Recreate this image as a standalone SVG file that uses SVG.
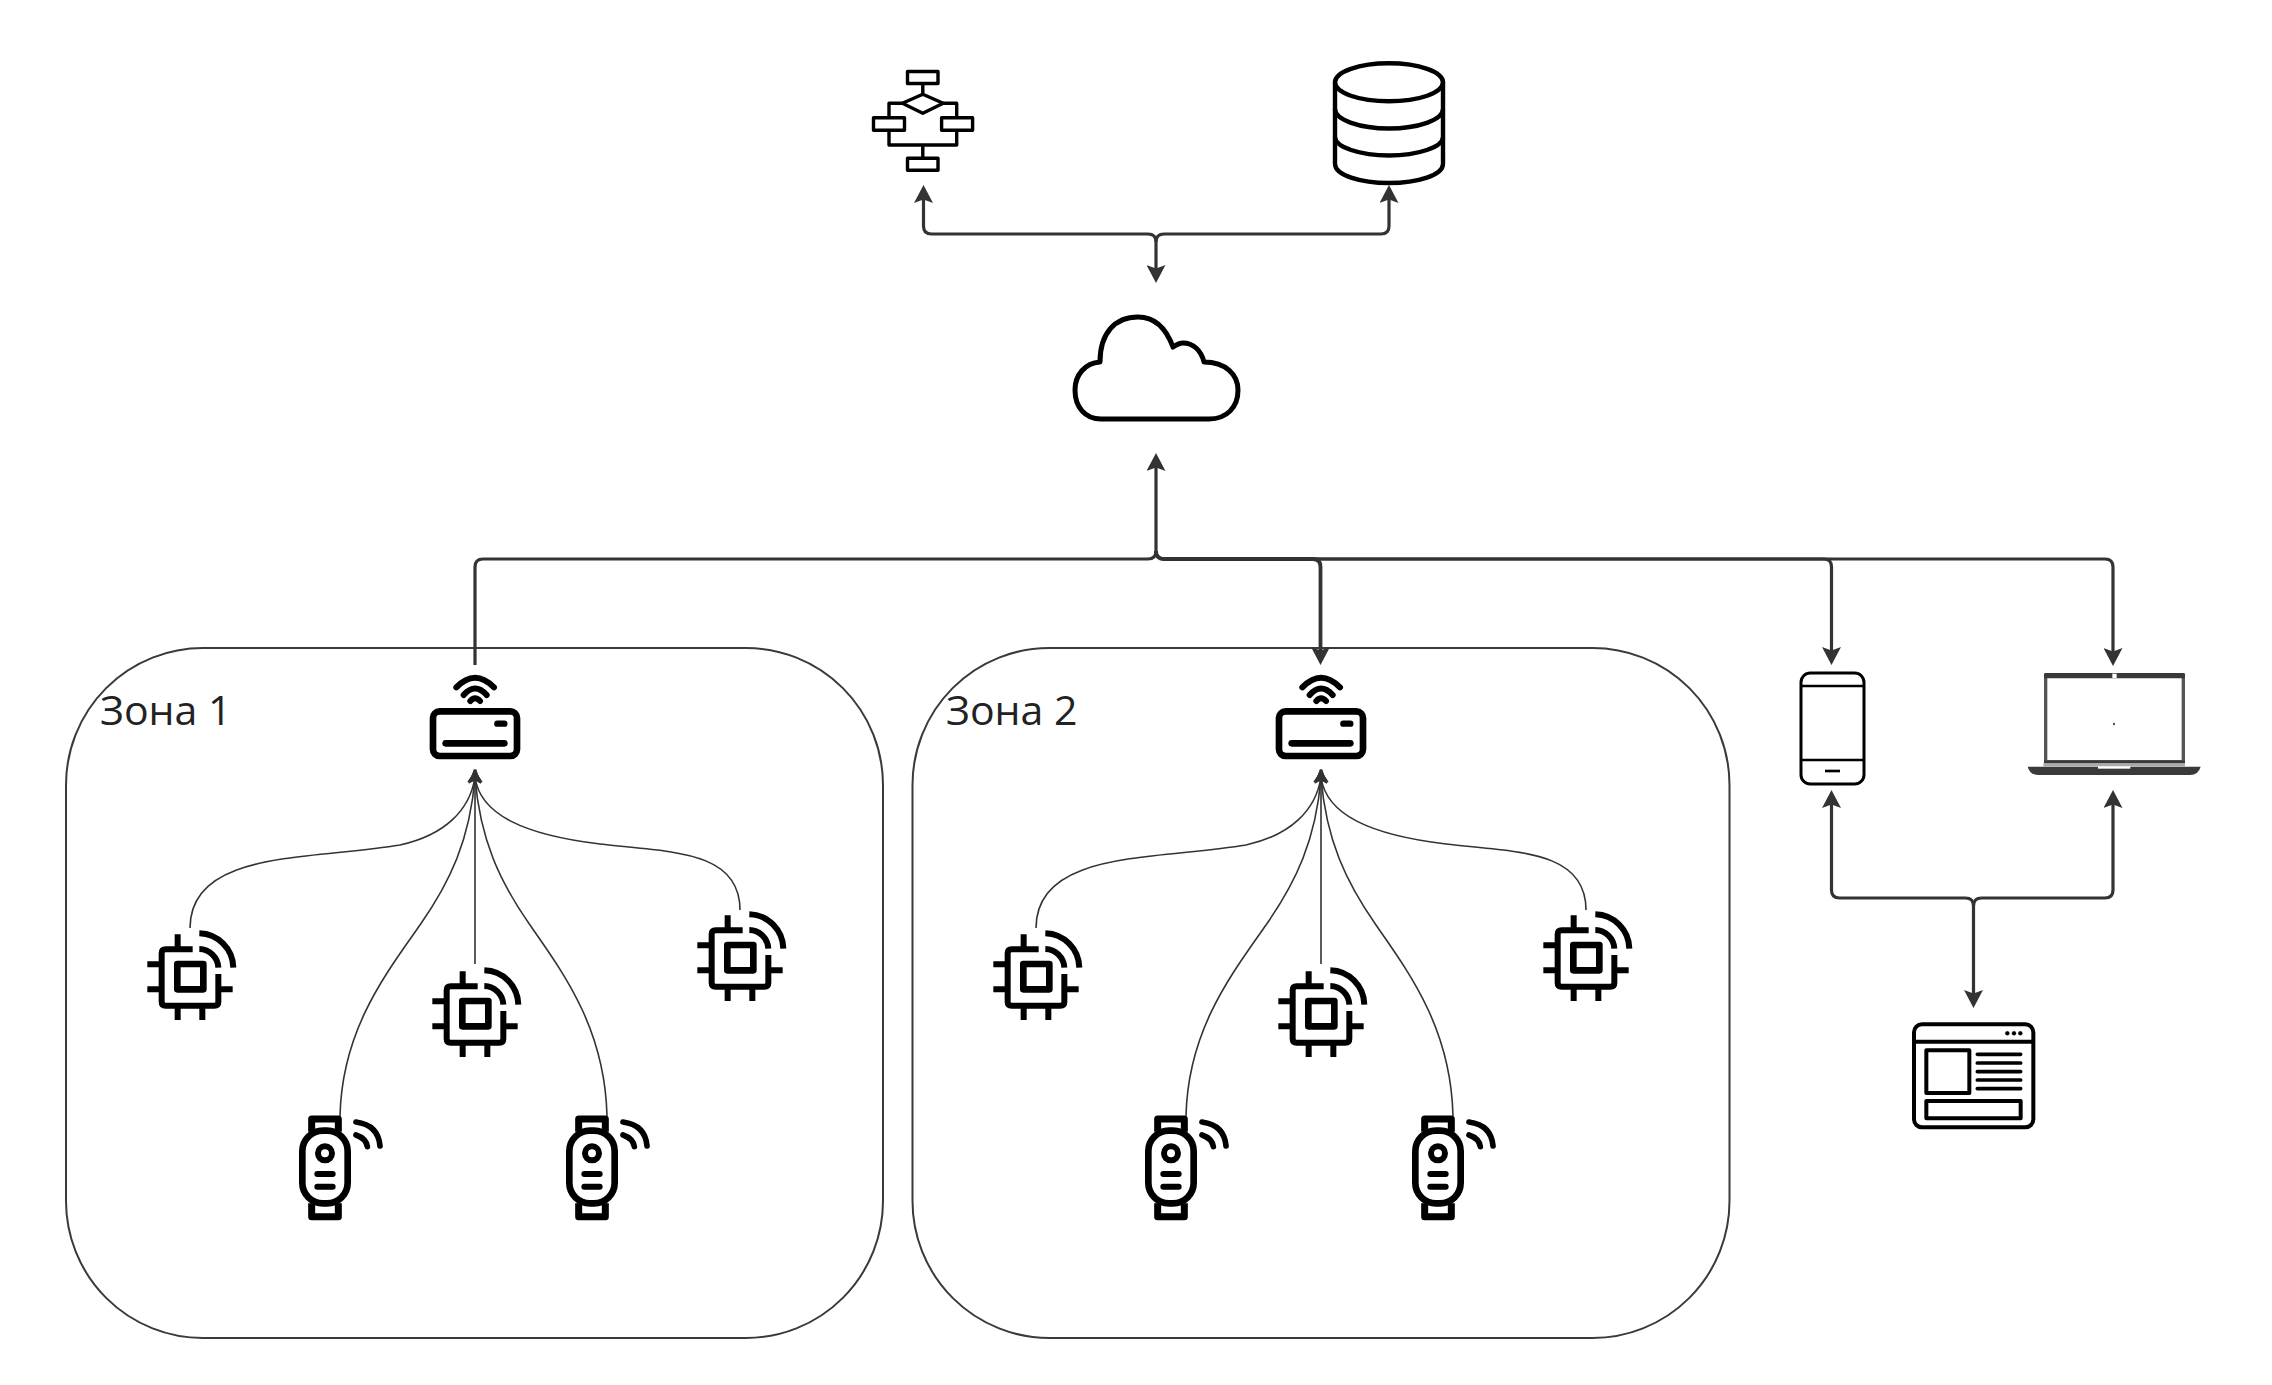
<svg xmlns="http://www.w3.org/2000/svg" width="2272" height="1385" viewBox="0 0 2272 1385">
<style>
.zone{fill:none;stroke:#3a3a3a;stroke-width:2}
.label{font-family:"Open Sans","Noto Sans",sans-serif;font-size:41px;fill:#222}
.ico{fill:none;stroke:#000;stroke-linecap:butt;stroke-linejoin:round}
.rnd{stroke-linecap:round}
.conn{fill:none;stroke:#333;stroke-width:3.2;stroke-linejoin:round}
.fan{fill:none;stroke:#333;stroke-width:1.6}
</style>
<defs>
<marker id="ah" markerUnits="userSpaceOnUse" viewBox="0 0 18 19" markerWidth="18" markerHeight="19" refX="7" refY="9.5" orient="auto"><path d="M18,9.5L0,0L3.5,9.5L0,19Z" fill="#333"/></marker>
<marker id="ahs" markerUnits="userSpaceOnUse" viewBox="0 0 14 14" markerWidth="14" markerHeight="14" refX="6" refY="7" orient="auto"><path d="M14,7L0,0L3,7L0,14Z" fill="#333"/></marker>
<g id="ac" transform="scale(.33333)" class="ico">
<rect x="159" y="214" width="252" height="134" rx="20" stroke-width="20"/>
<path class="rnd" d="M352,251H373" stroke-width="19"/>
<path class="rnd" d="M197,310H373" stroke-width="20"/>
<path class="rnd" d="M229,142Q285,84 342,142" stroke-width="18"/>
<path class="rnd" d="M251,165Q285,126 320,165" stroke-width="18"/>
<path class="rnd" d="M271,183Q285,167 300,183" stroke-width="18"/>
</g>
<g id="chip" transform="scale(.33333)" class="ico">
<path d="M218,178H137Q125,178 125,190V335Q125,347 137,347H283Q295,347 295,335V252" stroke-width="18"/>
<rect x="172" y="222" width="78" height="76" stroke-width="20"/>
<path d="M173,133V178M82,223H125M82,298H125M173,347V390M247,347V390M295,298H338" stroke-width="18"/>
<path d="M238,130A105,105 0 0 1 340,233" stroke-width="18"/>
<path d="M238,177A58,58 0 0 1 295,233" stroke-width="18"/>
</g>
<g id="watch" transform="scale(.33333)" class="ico">
<path d="M575,725V687H655V725" stroke-width="21"/>
<path d="M575,940V980H655V940" stroke-width="21"/>
<rect x="547" y="722" width="136" height="218" rx="62" stroke-width="20"/>
<circle cx="615" cy="790" r="21" stroke-width="18"/>
<path class="rnd" d="M592,852H638M592,890H638" stroke-width="18"/>
<path class="rnd" d="M708,696Q775,705 780,768" stroke-width="17"/>
<path class="rnd" d="M708,735Q738,745 742,770" stroke-width="17"/>
</g>
</defs>
<rect width="2272" height="1385" fill="#fff"/>
<g id="zone-1"><rect class="zone" x="66" y="648" width="817" height="690" rx="137" ry="137"/><text class="label" x="100" y="725">Зона 1</text></g>
<g id="zone-2"><rect class="zone" x="912.5" y="648" width="817" height="690" rx="137" ry="137"/><text class="label" x="946" y="725">Зона 2</text></g>
<g id="connectors">
<g id="top-links" class="conn">
<path d="M1156,242Q1156,234 1148,234H931.5Q923.5,234 923.5,226V196" marker-end="url(#ah)"/>
<path d="M1156,242Q1156,234 1164,234H1381Q1389,234 1389,226V196" marker-end="url(#ah)"/>
<path d="M1156,242V272" marker-end="url(#ah)"/>
</g>
<g id="bus" class="conn">
<path d="M475,665V567Q475,559 483,559H1148Q1156,559 1156,551V464" marker-end="url(#ah)"/>
<path d="M1156,551Q1156,559 1164,559H1313Q1320.5,559 1320.5,567V654" marker-end="url(#ah)" stroke-width="3.8"/>
<path d="M1156,551Q1156,559 1164,559H1824Q1831.5,559 1831.5,567V654" marker-end="url(#ah)"/>
<path d="M1156,551Q1156,559 1164,559H2105Q2113,559 2113,567V655" marker-end="url(#ah)"/>
</g>
<g id="app-links" class="conn">
<path d="M1973.5,906Q1973.5,898 1965.5,898H1839.5Q1831.5,898 1831.5,890V801" marker-end="url(#ah)"/>
<path d="M1973.5,906Q1973.5,898 1981.5,898H2105Q2113,898 2113,890V801" marker-end="url(#ah)"/>
<path d="M1973.5,906V997" marker-end="url(#ah)"/>
</g>
<g id="fan-1" class="fan">
<path d="M190,928C190,850 310,860 400,845C445,835 470,810 475,777" marker-end="url(#ahs)"/>
<path d="M740,910C740,850 670,852 600,844C525,835 480,815 475,777" marker-end="url(#ahs)"/>
<path d="M340,1116C342,1030 385,975 420,925C450,882 470,840 475,777" marker-end="url(#ahs)"/>
<path d="M607,1116C605,1030 565,975 530,925C500,882 480,840 475,777" marker-end="url(#ahs)"/>
<path d="M475,964V777" marker-end="url(#ahs)"/>
</g>
<g id="fan-2" class="fan" transform="translate(846,0)">
<path d="M190,928C190,850 310,860 400,845C445,835 470,810 475,777" marker-end="url(#ahs)"/>
<path d="M740,910C740,850 670,852 600,844C525,835 480,815 475,777" marker-end="url(#ahs)"/>
<path d="M340,1116C342,1030 385,975 420,925C450,882 470,840 475,777" marker-end="url(#ahs)"/>
<path d="M607,1116C605,1030 565,975 530,925C500,882 480,840 475,777" marker-end="url(#ahs)"/>
<path d="M475,964V777" marker-end="url(#ahs)"/>
</g>
</g>
<g id="flowchart" class="ico" stroke-width="3.4">
<rect x="907.5" y="71.5" width="30.5" height="12"/>
<path d="M922.8,83.5V94.3M922.8,94.3L943.2,103.3L922.8,113.3L902.4,103.3Z"/>
<path d="M902.4,103.3H889V117.7M943.2,103.3H956.7V117.7"/>
<rect x="873.5" y="117.7" width="31" height="12.5"/>
<rect x="941.6" y="117.7" width="31" height="12.5"/>
<path d="M889,130.2V145H956.7V130.2M922.8,145V158.3"/>
<rect x="907.5" y="158.3" width="30.5" height="12"/>
</g>
<g id="database" class="ico" stroke-width="4.4">
<ellipse cx="1389" cy="82.3" rx="54" ry="19"/>
<path d="M1335,82.3V164C1335,175 1360,183 1389,183C1418,183 1443,175 1443,164V82.3"/>
<path d="M1335,109C1335,120 1360,128.5 1389,128.5C1418,128.5 1443,120 1443,109"/>
<path d="M1335,137C1335,147 1360,155.5 1389,155.5C1418,155.5 1443,147 1443,137"/>
</g>
<g id="cloud" class="ico" stroke-width="5">
<path d="M1101,419H1209C1227,419 1238,407 1238,390C1238,375 1226,362 1204,362C1201,350 1193,343 1183,343C1179,343 1176,345 1173,347C1166,328 1154,317 1138,317C1115,317 1100,333 1100,362C1085,363 1075,375 1075,390C1075,407 1085,419 1101,419Z"/>
</g>
<g id="gateway-1"><use href="#ac" x="380" y="640"/></g>
<g id="gateway-2"><use href="#ac" x="1226" y="640"/></g>
<g id="sensor-1-1"><use href="#chip" x="120" y="890"/></g>
<g id="sensor-1-2"><use href="#chip" x="405" y="927"/></g>
<g id="sensor-1-3"><use href="#chip" x="670" y="871"/></g>
<g id="wearable-1-1"><use href="#watch" x="120" y="890"/></g>
<g id="wearable-1-2"><use href="#watch" x="387" y="890"/></g>
<g id="sensor-2-1"><use href="#chip" x="966" y="890"/></g>
<g id="sensor-2-2"><use href="#chip" x="1251" y="927"/></g>
<g id="sensor-2-3"><use href="#chip" x="1516" y="871"/></g>
<g id="wearable-2-1"><use href="#watch" x="966" y="890"/></g>
<g id="wearable-2-2"><use href="#watch" x="1233" y="890"/></g>
<g id="phone" transform="translate(1770,640) scale(.33333)" class="ico">
<rect x="93" y="99" width="189" height="333" rx="28" stroke-width="9"/>
<path d="M93,138H282M93,360H282" stroke-width="8"/>
<path d="M165,393H210" stroke-width="8"/>
</g>
<g id="laptop" transform="translate(1770,640) scale(.33333)">
<rect x="827" y="107" width="413" height="258" fill="none" stroke="#555" stroke-width="10"/>
<rect x="822" y="99" width="423" height="16" rx="4" fill="#3a3a3a"/>
<rect x="1027" y="101" width="13" height="13" fill="#fff"/>
<rect x="822" y="362" width="423" height="8" fill="#3a3a3a"/>
<rect x="820" y="370" width="425" height="9" fill="#aaa"/>
<path d="M773,380H1292Q1285,405 1260,405H805Q780,405 773,380Z" fill="#3a3a3a"/>
<rect x="984" y="379" width="97" height="7" fill="#fff"/>
<circle cx="1032" cy="252" r="3.5" fill="#555"/>
</g>
<g id="webapp" transform="translate(1880,980) scale(.33333)" class="ico">
<rect x="102" y="133" width="358" height="309" rx="24" stroke-width="12"/>
<path d="M102,185H460" stroke-width="12"/>
<circle cx="382" cy="160" r="6" fill="#000"/><circle cx="402" cy="160" r="6" fill="#000"/><circle cx="421" cy="160" r="6" fill="#000"/>
<rect x="139" y="211" width="129" height="128" stroke-width="12"/>
<path class="rnd" d="M292,223H422M292,249H422M292,275H422M292,300H422M292,326H422" stroke-width="11"/>
<rect x="139" y="363" width="283" height="52" stroke-width="12"/>
</g>
</svg>
